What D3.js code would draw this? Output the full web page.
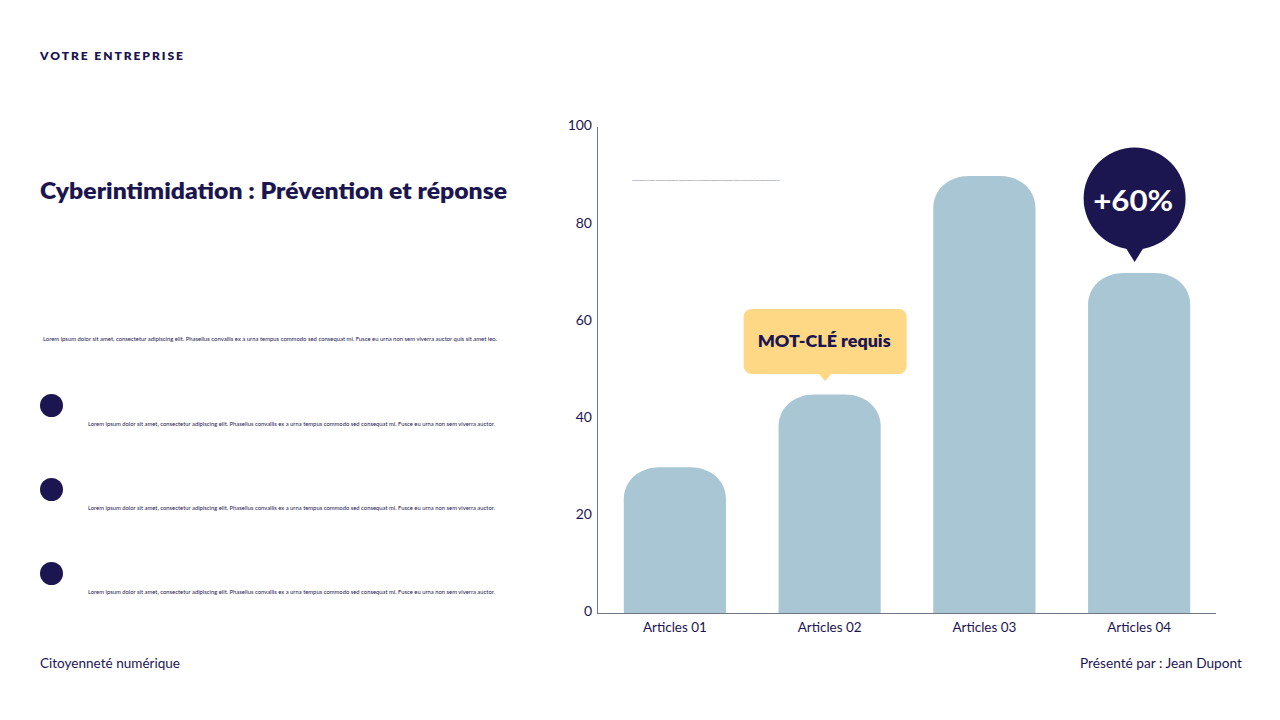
<!DOCTYPE html>
<html>
<head>
<meta charset="utf-8">
<script src="https://cdn.jsdelivr.net/npm/d3@7"></script>
<style>
  html, body { margin: 0; padding: 0; background: #fff; }
  text { font-family: Lato, "Noto Sans", sans-serif; fill: #1c1650; }
</style>
</head>
<body>
<svg id="slide" width="1280" height="720"></svg>
<script>
var categories = ["Articles 01", "Articles 02", "Articles 03", "Articles 04"];
var values = [30, 45, 90, 70];
var yTicks = [0, 20, 40, 60, 80, 100];
var bullets = [
  "Lorem ipsum dolor sit amet, consectetur adipiscing elit. Phasellus convallis ex a urna tempus commodo sed consequat mi. Fusce eu urna non sem viverra auctor.",
  "Lorem ipsum dolor sit amet, consectetur adipiscing elit. Phasellus convallis ex a urna tempus commodo sed consequat mi. Fusce eu urna non sem viverra auctor.",
  "Lorem ipsum dolor sit amet, consectetur adipiscing elit. Phasellus convallis ex a urna tempus commodo sed consequat mi. Fusce eu urna non sem viverra auctor."
];
var intro = "Lorem ipsum dolor sit amet, consectetur adipiscing elit. Phasellus convallis ex a urna tempus commodo sed consequat mi. Fusce eu urna non sem viverra auctor quis sit amet leo.";

var navy = "#1c1650", barBlue = "#a8c6d4", yellow = "#ffd886", axisGrey = "#6f7787";

var svg = d3.select("#slide");

var x = d3.scaleBand().domain(categories).range([597.5, 1216.5]).paddingInner(0.34).paddingOuter(0.17);
var y = d3.scaleLinear().domain([0, 100]).range([613, 127.4]);

// left column
function label(txt, px, py, size, weight, len) {
  var t = svg.append("text")
    .attr("x", px)
    .attr("y", py)
    .style("font-size", size + "px")
    .style("font-weight", weight)
    .text(txt);
  if (len) t.attr("textLength", len).attr("lengthAdjust", "spacingAndGlyphs");
  return t;
}

label("VOTRE ENTREPRISE", 40, 60, 12, 800).style("letter-spacing", "1.95px");
label("Cyberintimidation : Prévention et réponse", 40, 198.5, 23, 800, 467);
label(intro, 43, 341, 5.6, 400, 454);

svg.selectAll(".bullet")
  .data(bullets)
  .enter().append("circle")
    .attr("class", "bullet")
    .attr("cx", 51.5)
    .attr("cy", function (d, i) { return 405.5 + i * 84; })
    .attr("r", 11.5)
    .style("fill", navy);

svg.selectAll(".bullet-text")
  .data(bullets)
  .enter().append("text")
    .attr("class", "bullet-text")
    .attr("x", 88)
    .attr("y", function (d, i) { return 425.5 + i * 84; })
    .attr("textLength", 407)
    .attr("lengthAdjust", "spacingAndGlyphs")
    .style("font-size", "5.6px")
    .text(function (d) { return d; });

label("Citoyenneté numérique", 40, 668, 13, 400, 140);
label("Présenté par : Jean Dupont", 1080, 668, 13, 400, 162);

// tiny caption over the chart
label(intro, 632, 181, 2.4, 700, 148).style("fill", "#77778c");

// bars, rounded at the top only
function barPath(d, i) {
  var left = x(categories[i]), w = x.bandwidth(), top = y(d), base = y(0);
  var rx = 36, ry = 32;
  var p = d3.path();
  p.moveTo(left, base);
  p.lineTo(left, top + ry);
  p.bezierCurveTo(left, top + ry * 0.42, left + rx * 0.42, top, left + rx, top);
  p.lineTo(left + w - rx, top);
  p.bezierCurveTo(left + w - rx * 0.42, top, left + w, top + ry * 0.42, left + w, top + ry);
  p.lineTo(left + w, base);
  p.closePath();
  return p.toString();
}

svg.selectAll(".bar")
  .data(values)
  .enter().append("path")
    .attr("class", "bar")
    .attr("d", barPath)
    .style("fill", barBlue);

// axes
var yAxis = svg.append("g")
  .attr("transform", "translate(597,0)")
  .call(d3.axisLeft(y).tickValues(yTicks).tickSize(0).tickPadding(5));
var xAxis = svg.append("g")
  .attr("transform", "translate(0,613)")
  .call(d3.axisBottom(x).tickSize(0).tickPadding(9));

yAxis.select(".domain").attr("d", "M0.5,127V613.5").style("stroke", axisGrey);
xAxis.select(".domain").attr("d", "M597,0.5H1216").style("stroke", axisGrey);
yAxis.selectAll("text")
  .attr("y", -2)
  .attr("dy", "0.32em")
  .style("font-size", "14px").style("font-family", "Lato").style("fill", navy);
xAxis.selectAll("text")
  .attr("textLength", 64)
  .attr("lengthAdjust", "spacingAndGlyphs")
  .style("font-size", "14px").style("font-family", "Lato").style("fill", navy);

// callout on Articles 02
var cx2 = x(categories[1]) + x.bandwidth() / 2 - 4.5;
svg.append("rect")
  .attr("x", cx2 - 81.5).attr("y", 309)
  .attr("width", 163).attr("height", 65)
  .attr("rx", 8)
  .style("fill", yellow);
svg.append("path")
  .attr("d", d3.line()([[cx2 - 7, 373], [cx2 + 7, 373], [cx2, 381]]))
  .style("fill", yellow);
svg.append("text")
  .attr("x", cx2 - 1).attr("y", 347)
  .attr("text-anchor", "middle")
  .attr("textLength", 133)
  .attr("lengthAdjust", "spacingAndGlyphs")
  .style("font-size", "17px")
  .style("font-weight", 800)
  .text("MOT-CLÉ requis");

// bubble on Articles 04
var cx4 = x(categories[3]) + x.bandwidth() / 2;
svg.append("circle")
  .attr("cx", cx4 - 4.5).attr("cy", 198.5)
  .attr("r", 51)
  .style("fill", navy);
svg.append("path")
  .attr("d", d3.line()([[cx4 - 14.5, 246], [cx4 + 5.5, 246], [cx4 - 4.5, 262]]))
  .style("fill", navy);
svg.append("text")
  .attr("x", cx4 - 6).attr("y", 211)
  .attr("text-anchor", "middle")
  .attr("textLength", 80)
  .attr("lengthAdjust", "spacingAndGlyphs")
  .style("font-size", "28px")
  .style("font-weight", 700)
  .style("fill", "#fff")
  .text("+60%");
</script>
</body>
</html>
